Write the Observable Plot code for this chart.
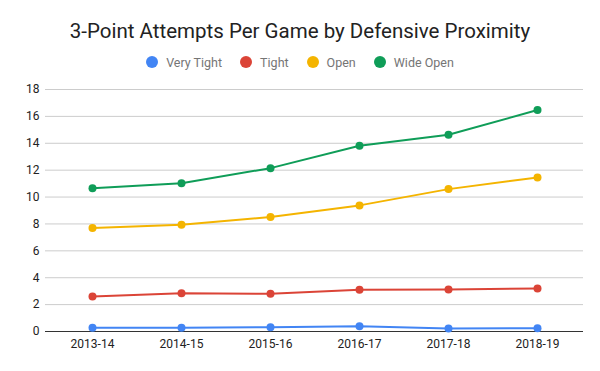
<!DOCTYPE html>
<html>
<head>
<meta charset="utf-8">
<script src="https://cdn.jsdelivr.net/npm/d3@7"></script>
<script src="https://cdn.jsdelivr.net/npm/@observablehq/plot@0.6"></script>
<style>
  body { margin: 0; background: #fff; font-family: Roboto, sans-serif; }
  #wrap { width: 600px; height: 371px; overflow: hidden; }
  #title { height: 44px; padding-top: 18px; box-sizing: border-box; text-align: center; font-size: 20.5px; line-height: 26px; color: #222; }
  #legend { height: 36px; display: flex; justify-content: center; align-items: center; font-size: 12.5px; color: #757575; }
  .item { display: flex; align-items: center; margin: 0 9px; }
  .sw { width: 12px; height: 12px; border-radius: 50%; margin-right: 8px; }
  svg { display: block; }
</style>
</head>
<body>
<div id="wrap">
  <div id="title">3-Point Attempts Per Game by Defensive Proximity</div>
  <div id="legend"></div>
  <div id="chart"></div>
</div>
<script>
const seasons = ["2013-14", "2014-15", "2015-16", "2016-17", "2017-18", "2018-19"];
const seriesNames = ["Very Tight", "Tight", "Open", "Wide Open"];
const seriesColors = ["#4285F4", "#DB4437", "#F4B400", "#0F9D58"];
const veryTight = [0.27, 0.27, 0.32, 0.39, 0.22, 0.25];
const tight = [2.60, 2.85, 2.80, 3.10, 3.13, 3.20];
const open = [7.69, 7.94, 8.51, 9.38, 10.59, 11.46];
const wideOpen = [10.66, 11.03, 12.15, 13.81, 14.63, 16.47];
const yTicks = [0, 2, 4, 6, 8, 10, 12, 14, 16, 18];

const allSeries = [veryTight, tight, open, wideOpen];
const data = [];
allSeries.forEach((vals, i) => vals.forEach((v, j) => data.push({season: seasons[j], series: seriesNames[i], value: v})));

const legend = document.getElementById("legend");
seriesNames.forEach((n, i) => {
  const it = document.createElement("div");
  it.className = "item";
  it.innerHTML = `<span class="sw" style="background:${seriesColors[i]}"></span><span>${n}</span>`;
  legend.appendChild(it);
});

const chart = Plot.plot({
  width: 600,
  height: 291,
  marginTop: 9,
  marginBottom: 40,
  marginLeft: 45,
  marginRight: 17,
  style: {fontFamily: "Roboto, sans-serif", fontSize: "12px", color: "#222"},
  x: {type: "point", domain: seasons, padding: 0.5, label: null, tickSize: 0, tickPadding: 8},
  y: {domain: [0, 18], ticks: yTicks, label: null, tickSize: 0, tickPadding: 6},
  color: {domain: seriesNames, range: seriesColors},
  marks: [
    Plot.gridY(yTicks.filter(d => d > 0), {stroke: "#ccc", strokeOpacity: 1, strokeWidth: 1}),
    Plot.ruleY([0], {stroke: "#333", strokeWidth: 1}),
    Plot.line(data, {x: "season", y: "value", z: "series", stroke: "series", strokeWidth: 2}),
    Plot.dot(data, {x: "season", y: "value", fill: "series", r: 4})
  ]
});
document.getElementById("chart").appendChild(chart);
</script>
</body>
</html>
